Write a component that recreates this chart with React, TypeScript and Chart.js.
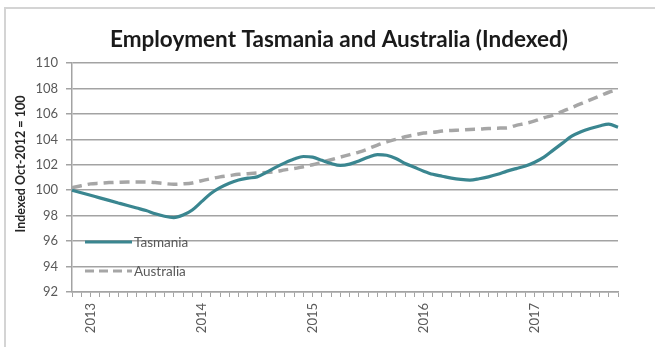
import React, { useEffect, useRef } from 'react';
import { Chart, registerables } from 'chart.js';

Chart.register(...registerables);

const chartTitle = 'Employment Tasmania and Australia (Indexed)';
const yAxisTitle = 'Indexed Oct-2012 = 100';
const seriesNames = ['Tasmania', 'Australia'];

const months = [
  'Nov-12', 'Dec-12',
  'Jan-13', 'Feb-13', 'Mar-13', 'Apr-13', 'May-13', 'Jun-13', 'Jul-13', 'Aug-13', 'Sep-13', 'Oct-13', 'Nov-13', 'Dec-13',
  'Jan-14', 'Feb-14', 'Mar-14', 'Apr-14', 'May-14', 'Jun-14', 'Jul-14', 'Aug-14', 'Sep-14', 'Oct-14', 'Nov-14', 'Dec-14',
  'Jan-15', 'Feb-15', 'Mar-15', 'Apr-15', 'May-15', 'Jun-15', 'Jul-15', 'Aug-15', 'Sep-15', 'Oct-15', 'Nov-15', 'Dec-15',
  'Jan-16', 'Feb-16', 'Mar-16', 'Apr-16', 'May-16', 'Jun-16', 'Jul-16', 'Aug-16', 'Sep-16', 'Oct-16', 'Nov-16', 'Dec-16',
  'Jan-17', 'Feb-17', 'Mar-17', 'Apr-17', 'May-17', 'Jun-17', 'Jul-17', 'Aug-17', 'Sep-17', 'Oct-17',
];

const tasmania = [
  100.0, 99.8, 99.6, 99.4, 99.2, 99.0, 98.8, 98.6, 98.4, 98.15,
  97.95, 97.85, 98.05, 98.45, 99.1, 99.75, 100.2, 100.55, 100.8, 100.95,
  101.05, 101.4, 101.8, 102.15, 102.45, 102.65, 102.6, 102.35, 102.1, 101.95,
  102.05, 102.3, 102.6, 102.8, 102.75, 102.5, 102.1, 101.8, 101.5, 101.25,
  101.1, 100.95, 100.85, 100.8, 100.9, 101.05, 101.25, 101.5, 101.7, 101.9,
  102.2, 102.6, 103.15, 103.7, 104.25, 104.6, 104.85, 105.05, 105.2, 104.95,
];

const australia = [
  100.2, 100.35, 100.5, 100.55, 100.6, 100.63, 100.65, 100.65, 100.65, 100.6,
  100.52, 100.47, 100.5, 100.57, 100.75, 100.9, 101.05, 101.15, 101.25, 101.3,
  101.35, 101.4, 101.45, 101.6, 101.7, 101.85, 102.0, 102.2, 102.4, 102.6,
  102.8, 103.0, 103.25, 103.55, 103.8, 104.0, 104.2, 104.35, 104.5, 104.55,
  104.65, 104.7, 104.73, 104.78, 104.8, 104.85, 104.88, 104.9, 105.1, 105.25,
  105.45, 105.7, 105.9, 106.2, 106.5, 106.8, 107.1, 107.4, 107.7, 107.9,
];

const yMin = 92;
const yMax = 110;
const yStep = 2;

const TEAL = '#3a8690';
const GREY = '#a6a6a6';
const GRID = '#a3a3a3';
const TEXT = '#595959';
const FONT = 'Lato, "Liberation Sans", sans-serif';

const framePlugin = {
  id: 'frame',
  beforeDraw(chart: any) {
    const ctx = chart.ctx;
    ctx.save();
    ctx.fillStyle = '#ffffff';
    ctx.fillRect(0, 0, chart.width, chart.height);
    ctx.strokeStyle = '#d4d4d4';
    ctx.lineWidth = 2;
    ctx.beginPath();
    ctx.moveTo(5, chart.height);
    ctx.lineTo(5, 8);
    ctx.lineTo(chart.width, 8);
    ctx.stroke();
    ctx.restore();
  },
};

const textPlugin = {
  id: 'texts',
  afterDraw(chart: any) {
    const ctx = chart.ctx;
    ctx.save();
    // Chart title
    ctx.fillStyle = '#1a1a1a';
    ctx.textAlign = 'center';
    ctx.textBaseline = 'middle';
    ctx.font = `bold 22.5px ${FONT}`;
    ctx.fillText(chartTitle, 339, 40);
    // Y axis title
    ctx.translate(21, 164);
    ctx.rotate(-Math.PI / 2);
    ctx.font = `bold 12.5px ${FONT}`;
    ctx.fillStyle = '#262626';
    ctx.fillText(yAxisTitle, 0, 0);
    ctx.restore();

    // Legend inside plot area
    const items = [
      { name: seriesNames[0], color: TEAL, dash: [] as number[], y: 242 },
      { name: seriesNames[1], color: GREY, dash: [9, 5], y: 271 },
    ];
    ctx.save();
    for (const it of items) {
      ctx.strokeStyle = it.color;
      ctx.lineWidth = 3;
      ctx.setLineDash(it.dash);
      ctx.beginPath();
      ctx.moveTo(85, it.y);
      ctx.lineTo(132, it.y);
      ctx.stroke();
      ctx.setLineDash([]);
      ctx.fillStyle = TEXT;
      ctx.font = `13.5px ${FONT}`;
      ctx.textAlign = 'left';
      ctx.textBaseline = 'middle';
      ctx.fillText(it.name, 134, it.y + 1);
    }
    ctx.restore();
  },
};

export default function App() {
  const ref = useRef<HTMLCanvasElement>(null);

  useEffect(() => {
    if (!ref.current) return;
    const chart = new Chart(ref.current, {
      type: 'line',
      data: {
        labels: months,
        datasets: [
          {
            label: seriesNames[0],
            data: tasmania,
            borderColor: TEAL,
            borderWidth: 3.2,
            pointRadius: 0,
            tension: 0.4,
            cubicInterpolationMode: 'monotone',
            fill: false,
          },
          {
            label: seriesNames[1],
            data: australia,
            borderColor: GREY,
            borderWidth: 3.5,
            borderDash: [10, 6],
            pointRadius: 0,
            tension: 0.4,
            cubicInterpolationMode: 'monotone',
            fill: false,
          },
        ],
      },
      options: {
        responsive: false,
        animation: false,
        devicePixelRatio: 1,
        layout: { padding: { left: 5, right: 37, top: 63, bottom: 0 } },
        plugins: {
          legend: { display: false },
          title: { display: false },
          tooltip: { enabled: false },
        },
        scales: {
          x: {
            afterFit(scale: any) {
              scale.height = 55;
            },
            grid: {
              drawOnChartArea: false,
              drawTicks: true,
              tickLength: 5,
              color: GRID,
              lineWidth: 1,
            },
            border: { display: true, color: GRID, width: 1.5 },
            ticks: {
              autoSkip: false,
              minRotation: 90,
              maxRotation: 90,
              padding: 6,
              color: TEXT,
              font: { family: FONT, size: 13 },
              callback: (_v: any, i: number) =>
                months[i].startsWith('Jan') ? '20' + months[i].slice(4) : '',
            },
          },
          y: {
            min: yMin,
            max: yMax,
            afterFit(scale: any) {
              scale.width = 67;
            },
            grid: {
              color: GRID,
              lineWidth: 1.5,
              tickLength: 6,
            },
            border: { display: true, color: GRID, width: 1.5 },
            ticks: {
              stepSize: yStep,
              padding: 8,
              color: TEXT,
              font: { family: FONT, size: 13 },
            },
          },
        },
      },
      plugins: [framePlugin, textPlugin],
    });
    return () => chart.destroy();
  }, []);

  return (
    <div style={{ position: 'fixed', left: 0, top: 0, width: 655, height: 347 }}>
      <canvas ref={ref} width={655} height={347} style={{ width: 655, height: 347 }} />
    </div>
  );
}
